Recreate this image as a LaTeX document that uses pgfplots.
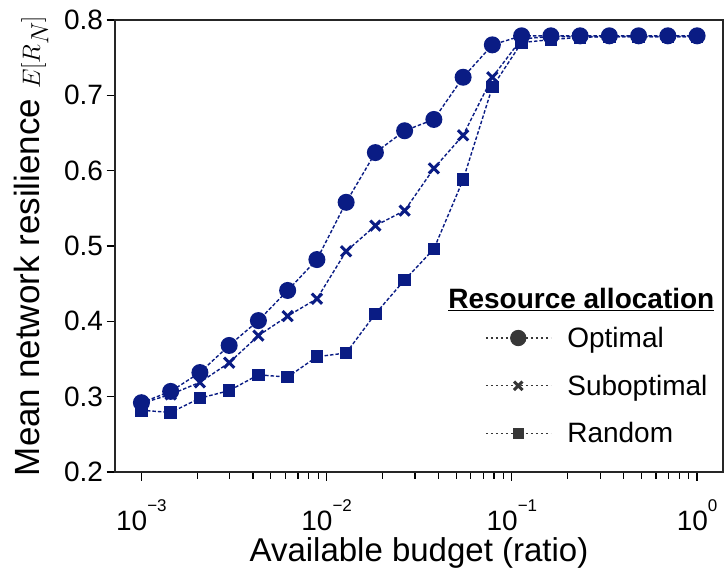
\documentclass[border=0pt]{standalone}
\usepackage{pgfplots}
\pgfplotsset{compat=1.18}
\usepackage{fontspec}
\setmainfont{Liberation Sans}

\definecolor{navy}{RGB}{10,28,132}
\definecolor{legendgray}{RGB}{55,55,55}

% budget ratios: 20 log-spaced steps from 1e-3 to 1
\pgfplotstableread{
x          opt    sub    rnd
0.001      0.292  0.291  0.282
0.0014384  0.307  0.303  0.279
0.0020691  0.332  0.319  0.298
0.0029764  0.368  0.345  0.308
0.0042813  0.401  0.381  0.329
0.0061585  0.441  0.407  0.326
0.0088587  0.482  0.430  0.353
0.012743   0.558  0.493  0.358
0.018330   0.624  0.527  0.410
0.026367   0.653  0.547  0.455
0.037927   0.668  0.603  0.496
0.054556   0.724  0.647  0.588
0.078476   0.767  0.724  0.711
0.11288    0.779  0.775  0.770
0.16238    0.779  0.778  0.774
0.23357    0.779  0.778  0.777
0.33598    0.779  0.778  0.778
0.48329    0.779  0.778  0.778
0.69519    0.779  0.778  0.778
1          0.779  0.778  0.778
}\resdata

% power-of-ten tick label with a small raised exponent
\newcommand{\pten}[1]{10\raisebox{0.68em}{\fontsize{17}{17}\selectfont #1}}

\begin{document}
\begin{tikzpicture}
\begin{axis}[
  scale only axis,
  width=608pt, height=452pt,
  xmode=log,
  xmin=0.00072, xmax=1.38,
  ymin=0.2, ymax=0.8,
  ytick={0.2,0.3,0.4,0.5,0.6,0.7,0.8},
  yticklabel style={/pgf/number format/.cd, fixed, fixed zerofill, precision=1, assume math mode=true},
  xtick={0.001,0.01,0.1,1},
  xticklabels={\pten{−3},\pten{−2},\pten{−1},\pten{0}},
  xticklabel style={anchor=base, yshift=-50pt},
  tick align=outside,
  xtick pos=left, ytick pos=left,
  major tick length=8.5pt, minor tick length=6.5pt,
  every tick/.style={black, line width=1.2pt},
  axis line style={line width=1.5pt, black!85},
  tick label style={font=\fontsize{28}{30}\selectfont},
  xlabel={Available budget (ratio)},
  ylabel={Mean network resilience $E[R_N]$},
  xlabel style={font=\fontsize{33}{36}\selectfont,
    at={(axis description cs:0.5,0)}, anchor=base, yshift=-89pt},
  ylabel style={font=\fontsize{35}{38}\selectfont,
    at={(axis description cs:0,0.5)}, anchor=base, yshift=75pt},
  legend style={draw=none, fill=none, inner sep=0pt,
    nodes={inner sep=0pt},
    at={(0.6086,0.321)}, anchor=north west,
    font=\fontsize{28}{30}\selectfont, row sep=26pt,
    /tikz/every odd column/.append style={column sep=16pt}},
  legend cell align=left,
  legend image code/.code={%
    \draw[mark repeat=2, mark phase=2, #1]
      plot coordinates {(0pt,0pt) (32.5pt,0pt) (65pt,0pt)};},
]
\addplot[navy, line width=1.4pt, dash pattern=on 3.5pt off 2pt,
  mark=*, mark size=7.8pt, mark options={solid, fill=navy, draw=navy}, forget plot]
  table[x=x, y=opt] {\resdata};
\addplot[navy, line width=1.4pt, dash pattern=on 3.5pt off 2pt,
  mark=x, mark size=7.2pt, mark options={solid, line width=3pt}, forget plot]
  table[x=x, y=sub] {\resdata};
\addplot[navy, line width=1.4pt, dash pattern=on 3.5pt off 2pt,
  mark=square*, mark size=5.6pt, mark options={solid, fill=navy, draw=navy}, forget plot]
  table[x=x, y=rnd] {\resdata};

\addlegendimage{legendgray, line width=1.1pt, dash pattern=on 2.5pt off 2.5pt,
  mark=*, mark size=7.6pt, mark options={solid, fill=legendgray}}
\addlegendentry{Optimal}
\addlegendimage{legendgray, line width=1.1pt, dash pattern=on 2.5pt off 2.5pt,
  mark=x, mark size=6pt, mark options={solid, line width=3pt}}
\addlegendentry{Suboptimal}
\addlegendimage{legendgray, line width=1.1pt, dash pattern=on 2.5pt off 2.5pt,
  mark=square*, mark size=5.2pt, mark options={solid, fill=legendgray}}
\addlegendentry{Random}

\node[font=\fontsize{28}{30}\selectfont\bfseries, anchor=center]
  at (rel axis cs:0.767,0.382) {\underline{Resource allocation}};
\end{axis}
\pgfresetboundingbox
\path (current axis.south west) ++(-115pt,-99pt) rectangle ++(727pt,571pt);
\end{tikzpicture}
\end{document}
